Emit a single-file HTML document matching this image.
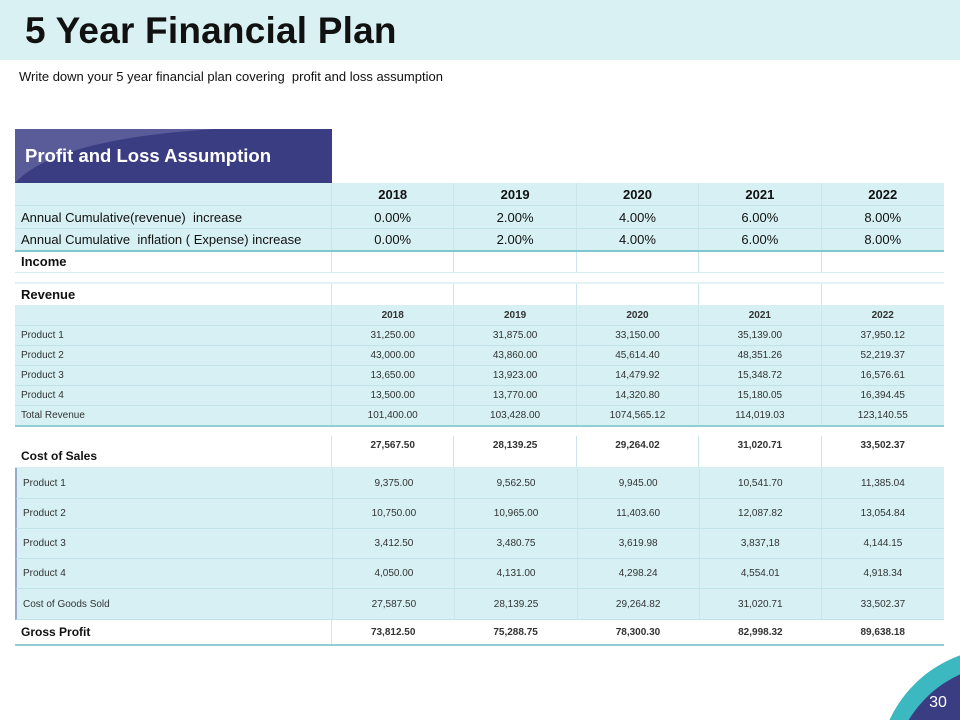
<!DOCTYPE html>
<html><head><meta charset="utf-8"><style>
*{margin:0;padding:0;box-sizing:border-box}
html,body{width:960px;height:720px;overflow:hidden}
body{position:relative;background:#fff;font-family:"Liberation Sans",Arial,sans-serif;color:#111}
.band{position:absolute;left:0;top:0;width:960px;height:60px;background:#d9f1f3}
h1{position:absolute;left:25px;top:10px;font-size:37px;font-weight:bold;letter-spacing:0.2px}
.sub{position:absolute;left:19px;top:69px;font-size:13px}
.hdr{position:absolute;left:15px;top:129px;width:317px;height:54px;background:#3b3d82;overflow:hidden}
.hdr span{position:absolute;left:10px;top:16px;color:#fff;font-weight:bold;font-size:18.5px}
.row{position:absolute;left:15px;width:929px;display:flex}
.row div{height:100%;display:flex;align-items:center;justify-content:center;border-right:1px solid #c9e6ea}
.row div:first-child{width:317px;justify-content:flex-start;padding-left:6px}
.row div:not(:first-child){width:122.4px}
.row div:last-child{border-right:none}
.c{background:#d6f0f3;border-bottom:1px solid #bfe3e8}
.w{background:#fff;border-bottom:1px solid #d6eef1}
.s{font-size:10px;color:#333}
.m{font-size:13px}
.b{font-weight:bold}
</style></head><body>
<div class="band"></div>
<h1>5 Year Financial Plan</h1>
<div class="sub">Write down your 5 year financial plan covering&nbsp; profit and loss assumption</div>
<div class="hdr"><svg width="317" height="54" style="position:absolute;left:0;top:0"><path d="M0 54 Q40 10 200 0 L0 0Z" fill="#5a5c9a"/></svg><span>Profit and Loss Assumption</span></div>

<div class="row c m b" style="top:183px;height:23px"><div></div><div>2018</div><div>2019</div><div>2020</div><div>2021</div><div>2022</div></div>
<div class="row c m" style="top:206px;height:23px"><div>Annual Cumulative(revenue)&nbsp; increase</div><div>0.00%</div><div>2.00%</div><div>4.00%</div><div>6.00%</div><div>8.00%</div></div>
<div class="row c m" style="top:229px;height:23px;border-bottom:2px solid #7cc8cc"><div>Annual Cumulative&nbsp; inflation ( Expense) increase</div><div>0.00%</div><div>2.00%</div><div>4.00%</div><div>6.00%</div><div>8.00%</div></div>
<div class="row w m b" style="top:252px;height:21px"><div style="align-items:flex-start;padding-top:2px">Income</div><div></div><div></div><div></div><div></div><div></div></div>
<div class="row w m b" style="top:282px;height:24px;border-top:2px solid #e3f3f5"><div>Revenue</div><div></div><div></div><div></div><div></div><div></div></div>
<div class="row c s b" style="top:306px;height:20px"><div></div><div>2018</div><div>2019</div><div>2020</div><div>2021</div><div>2022</div></div>
<div class="row c s" style="top:326px;height:20px"><div>Product 1</div><div>31,250.00</div><div>31,875.00</div><div>33,150.00</div><div>35,139.00</div><div>37,950.12</div></div>
<div class="row c s" style="top:346px;height:20px"><div>Product 2</div><div>43,000.00</div><div>43,860.00</div><div>45,614.40</div><div>48,351.26</div><div>52,219.37</div></div>
<div class="row c s" style="top:366px;height:20px"><div>Product 3</div><div>13,650.00</div><div>13,923.00</div><div>14,479.92</div><div>15,348.72</div><div>16,576.61</div></div>
<div class="row c s" style="top:386px;height:20px"><div>Product 4</div><div>13,500.00</div><div>13,770.00</div><div>14,320.80</div><div>15,180.05</div><div>16,394.45</div></div>
<div class="row c s" style="top:406px;height:21px;border-bottom:2px solid #8fcfd3"><div>Total Revenue</div><div>101,400.00</div><div>103,428.00</div><div>1074,565.12</div><div>114,019.03</div><div>123,140.55</div></div>

<div class="row w s b" style="top:436px;height:32px"><div style="font-size:12px;padding-top:8px;color:#111">Cost of Sales</div><div style="align-items:flex-start;padding-top:4px">27,567.50</div><div style="align-items:flex-start;padding-top:4px">28,139.25</div><div style="align-items:flex-start;padding-top:4px">29,264.02</div><div style="align-items:flex-start;padding-top:4px">31,020.71</div><div style="align-items:flex-start;padding-top:4px">33,502.37</div></div>
<div class="row c s" style="top:468px;height:31px;border-left:2px solid #9aa9cc"><div>Product 1</div><div>9,375.00</div><div>9,562.50</div><div>9,945.00</div><div>10,541.70</div><div>11,385.04</div></div>
<div class="row c s" style="top:499px;height:30px;border-left:2px solid #9aa9cc"><div>Product 2</div><div>10,750.00</div><div>10,965.00</div><div>11,403.60</div><div>12,087.82</div><div>13,054.84</div></div>
<div class="row c s" style="top:529px;height:30px;border-left:2px solid #9aa9cc"><div>Product 3</div><div>3,412.50</div><div>3,480.75</div><div>3,619.98</div><div>3,837,18</div><div>4,144.15</div></div>
<div class="row c s" style="top:559px;height:30px;border-left:2px solid #9aa9cc"><div>Product 4</div><div>4,050.00</div><div>4,131.00</div><div>4,298.24</div><div>4,554.01</div><div>4,918.34</div></div>
<div class="row c s" style="top:589px;height:31px;border-left:2px solid #9aa9cc"><div>Cost of Goods Sold</div><div>27,587.50</div><div>28,139.25</div><div>29,264.82</div><div>31,020.71</div><div>33,502.37</div></div>
<div class="row w s b" style="top:620px;height:26px;border-bottom:2px solid #8fcfd3"><div style="font-size:12px;color:#111">Gross Profit</div><div style="border:none">73,812.50</div><div style="border:none">75,288.75</div><div style="border:none">78,300.30</div><div style="border:none">82,998.32</div><div style="border:none">89,638.18</div></div>

<svg width="960" height="720" style="position:absolute;left:0;top:0;overflow:hidden">
<circle cx="1002" cy="772" r="124" fill="#3cb8c0"/>
<circle cx="1008" cy="780" r="116" fill="#3b3d82"/>
<text x="938" y="707" fill="#fff" font-size="16" font-family="Liberation Sans" text-anchor="middle">30</text>
</svg>
</body></html>
